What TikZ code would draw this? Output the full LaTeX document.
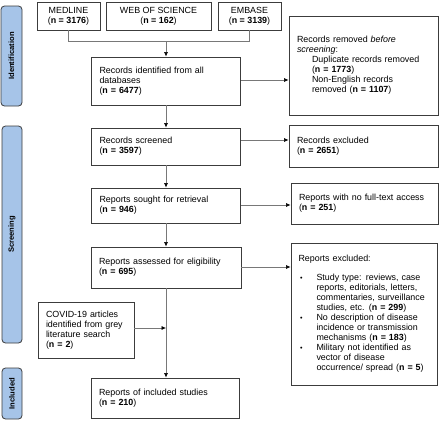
\documentclass[tikz,border=0pt]{standalone}
\usepackage{fontspec}
\setmainfont{Liberation Sans}
\usetikzlibrary{arrows.meta}
\definecolor{barblue}{RGB}{166,196,232}
\definecolor{boxline}{RGB}{60,60,60}
\definecolor{conn}{RGB}{120,120,120}
\newcommand{\smbul}{\makebox[16.5pt][l]{\raisebox{0.6pt}{\scalebox{0.8}{\textbullet}}}}
\begin{document}
\begin{tikzpicture}[x=1pt,y=-1pt,
  box/.style={draw=boxline, line width=0.9pt, inner xsep=8pt, inner ysep=2pt, align=left, font=\fontsize{8.9}{10}\selectfont},
  ctr/.style={box, align=center, inner xsep=2pt},
  bar/.style={draw=boxline, fill=barblue, rounded corners=3.5pt, line width=0.8pt, rotate=90, font=\fontsize{7.6}{9}\selectfont\bfseries, inner sep=0pt},
  ln/.style={draw=conn, line width=0.6pt},
  arr/.style={ln, -{Latex[length=4.5pt,width=4pt,color=black]}}]
\useasboundingbox (0,0) rectangle (440,429);

% side bars
\node[bar, minimum width=100pt, minimum height=21pt] (bid) at (11.5,56) {Identification};
\node[bar, minimum width=217pt, minimum height=20pt] (bsc) at (12,234.5) {Screening};
\node[bar, minimum width=51pt, minimum height=20pt] (bin) at (12,393.5) {Included};

% database boxes
\node[ctr, minimum width=63pt, minimum height=28pt] (med) at (68.5,16) {MEDLINE\\(\textbf{n = 3176})};
\node[ctr, minimum width=105pt, minimum height=28pt] (wos) at (158.5,16) {WEB OF SCIENCE\\(\textbf{n = 162})};
\node[ctr, minimum width=63pt, minimum height=28pt] (emb) at (249.5,16) {EMBASE\\(\textbf{n = 3139})};

% main column
\node[box, text width=133pt, minimum height=48pt] (ident) at (166,81) {Records identified from all\\databases\\(\textbf{n = 6477})};
\node[box, text width=133pt, minimum height=37pt] (screened) at (166,146.5) {Records screened\\(\textbf{n = 3597})};
\node[box, text width=133pt, minimum height=35pt] (sought) at (166,205.5) {Reports sought for retrieval\\(\textbf{n = 946})};
\node[box, text width=134pt, minimum height=41pt] (assessed) at (166,267.5) {Reports assessed for eligibility\\(\textbf{n = 695})};
\node[box, text width=132pt, minimum height=40pt] (incl) at (165,398) {Reports of included studies\\(\textbf{n = 210})};
\node[box, text width=80pt, minimum height=56pt] (covid) at (86,330) {COVID-19 articles\\identified from grey\\literature search\\(\textbf{n = 2})};

% right column
\node[box, text width=133pt, minimum height=99pt] (removed) at (363.5,65.5) {Records removed \textit{before}\\\textit{screening}:\\\hspace*{15pt}Duplicate records removed\\\hspace*{15pt}(\textbf{n = 1773})\\\hspace*{15pt}Non-English records\\\hspace*{15pt}removed (\textbf{n = 1107})};
\node[box, text width=133pt, minimum height=42pt] (excluded) at (363.5,146) {Records excluded\\(\textbf{n = 2651})};
\node[box, text width=131pt, minimum height=41pt] (nofull) at (364.5,203.5) {Reports with no full-text access\\(\textbf{n = 251})};
\node[box, inner xsep=7.5pt, text width=131pt, minimum height=142pt] (repexcl) at (364,314) {Reports excluded:\\[9pt]
\hspace*{1.5pt}\smbul Study type: reviews, case\\
\hspace*{18pt}reports, editorials, letters,\\
\hspace*{18pt}commentaries, surveillance\\
\hspace*{18pt}studies, etc. (\textbf{n = 299})\\
\hspace*{1.5pt}\smbul No description of disease\\
\hspace*{18pt}incidence or transmission\\
\hspace*{18pt}mechanisms (\textbf{n = 183})\\
\hspace*{1.5pt}\smbul Military not identified as\\
\hspace*{18pt}vector of disease\\
\hspace*{18pt}occurrence/ spread (\textbf{n = 5})};

% connectors
\coordinate (j1) at (166,41.7);
\draw[ln] (med.south) -- (med.south |- j1) -| (emb.south);
\draw[arr] (j1) -- (ident.north);
\draw[arr] (ident.east |- 0,80) -- (removed.west |- 0,80);
\draw[arr] (ident.south) -- (screened.north);
\draw[arr] (screened.east |- 0,140) -- (excluded.west |- 0,140);
\draw[arr] (screened.south) -- (sought.north);
\draw[arr] (sought.east |- 0,205) -- (nofull.west |- 0,205);
\draw[arr] (sought.south) -- (assessed.north);
\draw[arr] (assessed.east |- 0,267) -- (repexcl.west |- 0,267);
\coordinate (j2) at (assessed.south |- 0,328);
\draw[arr] (covid.east |- j2) -- (j2);
\draw[arr] (assessed.south) -- (assessed.south |- incl.north);
\end{tikzpicture}
\end{document}
